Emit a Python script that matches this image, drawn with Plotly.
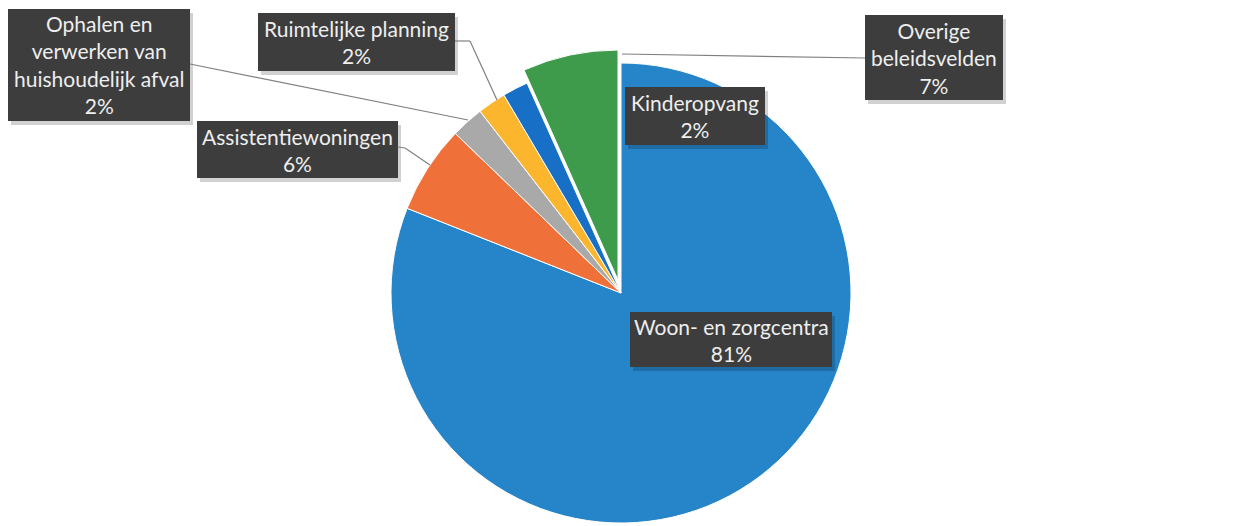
import plotly.graph_objects as go

# ---- data ----
labels = [
    "Woon- en zorgcentra",
    "Assistentiewoningen",
    "Ophalen en<br>verwerken van<br>huishoudelijk afval",
    "Ruimtelijke planning",
    "Kinderopvang",
    "Overige<br>beleidsvelden",
]
values = [81.0, 6.2, 2.3, 2.0, 1.8, 6.7]
colors = ["#2684c8", "#f0703a", "#a9a9a9", "#fbb62e", "#176fc6", "#3e9b4c"]
pulled_index = 5

W, H = 1251, 526
OFF = 8  # page body margin offset


def px(x):
    return (x - OFF) / W


def py(y):
    return 1 - (y - OFF) / H


# pie geometry (pixels, screenshot coordinates)
cx, cy, r = 621, 293, 230
pull_dx, pull_dy = -3, -13

transparent = "rgba(0,0,0,0)"
colors_main = [c if i != pulled_index else transparent for i, c in enumerate(colors)]
colors_pull = [c if i == pulled_index else transparent for i, c in enumerate(colors)]
lw_main = [1 if i != pulled_index else 0 for i in range(len(values))]
lw_pull = [1 if i == pulled_index else 0 for i in range(len(values))]

fig = go.Figure()
fig.add_trace(go.Pie(
    labels=labels, values=values, sort=False, direction="clockwise", rotation=0,
    marker=dict(colors=colors_main, line=dict(color="white", width=lw_main)),
    textinfo="none", showlegend=False,
    domain=dict(x=[px(cx - r), px(cx + r)], y=[py(cy + r), py(cy - r)]),
))
fig.add_trace(go.Pie(
    labels=labels, values=values, sort=False, direction="clockwise", rotation=0,
    marker=dict(colors=colors_pull, line=dict(color="white", width=lw_pull)),
    textinfo="none", showlegend=False,
    domain=dict(x=[px(cx + pull_dx - r), px(cx + pull_dx + r)],
                y=[py(cy + pull_dy + r), py(cy + pull_dy - r)]),
))

# label boxes (pixel rectangles) and leader lines
boxes = [
    (630, 312, 832, 367),   # Woon
    (197, 121, 398, 178),   # Assistentie
    (8, 9, 190, 121),       # Ophalen
    (258, 13, 455, 71),     # Ruimtelijke
    (625, 87, 765, 145),    # Kinderopvang
    (865, 15, 1003, 100),   # Overige
]
leaders = [
    None,
    [(398, 147), (405, 148), (430, 165)],
    [(190, 64), (468, 120)],
    [(455, 41), (470, 41), (497, 100)],
    None,
    [(622, 54), (865, 58)],
]

total = sum(values)
shapes = []
annotations = []
for i, (lab, val) in enumerate(zip(labels, values)):
    x0, y0, x1, y1 = boxes[i]
    # shadow
    shapes.append(dict(type="rect", xref="paper", yref="paper",
                       x0=px(x0 + 3), x1=px(x1 + 3), y0=py(y1 + 4), y1=py(y0 + 4),
                       fillcolor="rgba(0,0,0,0.18)", line=dict(width=0), layer="above"))
    shapes.append(dict(type="rect", xref="paper", yref="paper",
                       x0=px(x0), x1=px(x1), y0=py(y1), y1=py(y0),
                       fillcolor="#3d3d3d", line=dict(width=0), layer="above"))
    if leaders[i]:
        pts = leaders[i]
        for (ax, ay), (bx, by) in zip(pts[:-1], pts[1:]):
            shapes.append(dict(type="line", xref="paper", yref="paper",
                               x0=px(ax), y0=py(ay), x1=px(bx), y1=py(by),
                               line=dict(color="#808080", width=1.2), layer="above"))
    pct = round(val / total * 100)
    annotations.append(dict(
        xref="paper", yref="paper", x=px((x0 + x1) / 2), y=py((y0 + y1) / 2),
        xanchor="center", yanchor="middle", showarrow=False,
        text=f"{lab}<br>{pct}%", align="center",
        font=dict(family="Lato", size=21, color="#eeeeee"),
    ))

fig.update_layout(
    width=W, height=H,
    margin=dict(l=0, r=0, t=0, b=0),
    paper_bgcolor="white", plot_bgcolor="white",
    shapes=shapes, annotations=annotations,
)

fig.write_html("out.html")
